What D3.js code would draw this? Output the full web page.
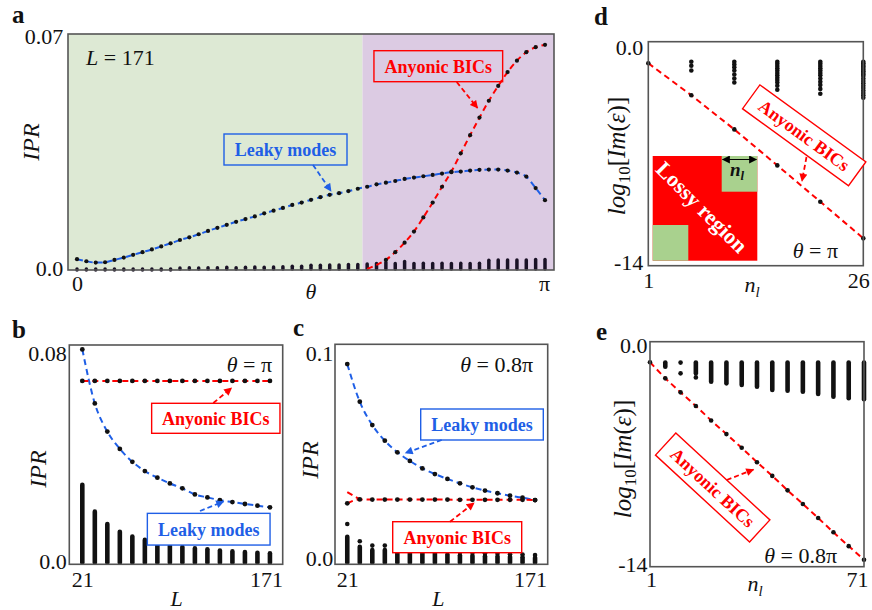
<!DOCTYPE html>
<html>
<head>
<meta charset="utf-8">
<script src="https://cdn.jsdelivr.net/npm/d3@7"></script>
<style>
  body { margin: 0; background: #fff; }
  svg { display: block; }
  svg text { font-family: "Liberation Serif", "DejaVu Serif", serif !important; }
</style>
</head>
<body>
<svg id="fig" width="872" height="610"></svg>
<script>
// ---------- data ----------
// panel a : IPR vs theta (theta in units of pi), L = 171
const thetaFrac = [0, 0.02, 0.04, 0.06, 0.08, 0.1, 0.12, 0.14, 0.16, 0.18, 0.2, 0.22, 0.24, 0.26, 0.28,
  0.3, 0.32, 0.34, 0.36, 0.38, 0.4, 0.42, 0.44, 0.46, 0.48, 0.5, 0.52, 0.54, 0.56, 0.58, 0.6, 0.62,
  0.64, 0.66, 0.68, 0.7, 0.72, 0.74, 0.76, 0.78, 0.8, 0.82, 0.84, 0.86, 0.88, 0.9, 0.92, 0.94, 0.96, 0.98, 1];
const leakyA = [0.0032, 0.0026, 0.0022, 0.0023, 0.0030, 0.0037, 0.0045, 0.0053, 0.0061, 0.0070, 0.0079,
  0.0089, 0.0097, 0.0106, 0.0116, 0.0125, 0.0134, 0.0143, 0.0151, 0.0159, 0.0168, 0.0176, 0.0184, 0.0193,
  0.0200, 0.0208, 0.0216, 0.0223, 0.0228, 0.0234, 0.0241, 0.0247, 0.0254, 0.0259, 0.0264, 0.0270, 0.0274,
  0.0278, 0.0282, 0.0286, 0.0290, 0.0292, 0.0295, 0.0297, 0.0298, 0.0298, 0.0295, 0.0289, 0.0277, 0.0243, 0.0207];
const redAStart = 31;   // first theta index of the BIC branch
const redA = [0.0003, 0.0015, 0.0030, 0.0053, 0.0081, 0.0114, 0.0156, 0.0200, 0.0247, 0.0292, 0.0346,
  0.0400, 0.0452, 0.0502, 0.0546, 0.0587, 0.0621, 0.0646, 0.0661, 0.0668];
const bulkA = [0, 0, 0, 0, 0, 0, 0, 0, 0, 0, 0,
  0.0006, 0.0007, 0.0006, 0.0007, 0.0007, 0.0008, 0.0007, 0.0008, 0.0009, 0.0008, 0.0009, 0.0010, 0.0011, 0.0011,
  0.0014, 0.0014, 0.0015, 0.0015, 0.0016, 0.0016,
  0.0018, 0.0019, 0.0022, 0.0019, 0.0025, 0.0019, 0.0020, 0.0019, 0.0020, 0.0019, 0.0020, 0.0019, 0.0020,
  0.0029, 0.0030, 0.0030, 0.0030, 0.0030, 0.0031, 0.0031];
const splitA = 0.61;    // green / purple boundary (units of pi)

// panels b, c : IPR vs L
const sizes = [21, 31, 41, 51, 61, 71, 81, 91, 101, 111, 121, 131, 141, 151, 161, 171];
const leakyB = [0.0784, 0.0587, 0.0484, 0.0421, 0.0374, 0.0340, 0.0316, 0.0295, 0.0277, 0.0255, 0.0244,
  0.0234, 0.0227, 0.0220, 0.0214, 0.0208];
const redB = [0.0669, 0.0669, 0.0669, 0.0669, 0.0669, 0.0669, 0.0669, 0.0669, 0.0669, 0.0669, 0.0669,
  0.0669, 0.0669, 0.0669, 0.0669, 0.0669];
const bulkB = [0.0290, 0.0192, 0.0147, 0.0119, 0.0101, 0.0089, 0.0079, 0.0068, 0.0063, 0.0058, 0.0055,
  0.0050, 0.0047, 0.0045, 0.0042, 0.0040];

const leakyC = [0.0910, 0.0739, 0.0633, 0.0562, 0.0509, 0.0470, 0.0436, 0.0410, 0.0388, 0.0368, 0.0350,
  0.0335, 0.0323, 0.0312, 0.0303, 0.0292];
const redC = [0.0277, 0.0295, 0.0294, 0.0294, 0.0294, 0.0294, 0.0294, 0.0294, 0.0294, 0.0293, 0.0293,
  0.0293, 0.0293, 0.0293, 0.0293, 0.0292];
const redCUpper = [0.0328, 0.0295];  // second BIC branch at L = 21, 31
const bulkCBar = [0.0125, 0.0080, 0.0065, 0.0065, 0.0057, 0.0054, 0.0054, 0.0049, 0.0045, 0.0041, 0.0039,
  0.0037, 0.0035, 0.0034, 0.0032, 0.0030];
const bulkCDot = [0.0183, 0.0105, 0.0085, 0.0085, 0.0075, 0.0072, 0.0072, 0.0066, 0.0060, 0.0055, 0.0052,
  0.0050, 0.0048, 0.0046, 0.0044, 0.0042];

// panel d : log10 Im(eps) vs n_l, theta = pi
const nD = [1, 6, 11, 16, 21, 26];
const bicD = [-1.35, -3.35, -5.48, -7.73, -10.0, -12.29];
const bulkD = [
  [],
  [-1.25, -1.5, -1.8],
  [-1.25, -1.42, -1.6, -1.8, -2.05, -2.3, -2.55],
  [-1.25, -1.38, -1.52, -1.66, -1.8, -1.95, -2.1, -2.25, -2.4, -2.55, -2.75, -3.0],
  [-1.25, -1.38, -1.52, -1.66, -1.8, -1.95, -2.1, -2.3, -2.5, -2.7, -2.95, -3.25],
  [-1.25, -1.35, -1.45, -1.55, -1.65, -1.75, -1.85, -1.95, -2.05, -2.15, -2.3, -2.45, -2.6, -2.75,
   -2.9, -3.05, -3.2, -3.35, -3.5]
];

// panel e : theta = 0.8 pi
const nE = [1, 6, 11, 16, 21, 26, 31, 36, 41, 46, 51, 56, 61, 66, 71];
const bicE = [-1.28, -2.28, -3.15, -4.0, -4.9, -5.75, -6.6, -7.5, -8.35, -9.25, -10.1, -10.97, -11.86,
  -12.72, -13.57];
const bulkENl = [6, 11, 16, 21, 26, 31, 36, 41, 46, 51, 56, 61, 66, 71];
const bulkETop = [-1.3, -1.3, -1.3, -1.3, -1.3, -1.3, -1.3, -1.3, -1.3, -1.3, -1.3, -1.3, -1.3, -1.3];
const bulkEBot = [-1.56, -1.3, -1.97, -2.49, -2.59, -2.69, -2.8, -3.0, -3.05, -3.11, -3.25, -3.42, -3.52, -3.58];
const bulkEExtra = [[11, -1.97], [16, -2.22]];

// ---------- helpers ----------
const SERIF = '"Liberation Serif", "DejaVu Serif", serif';
const RED = '#ff0000', BLUE = '#1f5fe6', INK = '#111', FRAME = '#555';

const svg = d3.select('#fig');
const defs = svg.append('defs');

function addMarker(id, color) {
  defs.append('marker')
      .attr('id', id)
      .attr('viewBox', '0 0 10 10')
      .attr('refX', 9).attr('refY', 5)
      .attr('markerWidth', 9).attr('markerHeight', 8)
      .attr('markerUnits', 'userSpaceOnUse')
      .attr('orient', 'auto-start-reverse')
    .append('path')
      .attr('d', 'M0,0L10,5L0,10z')
      .attr('fill', color);
}
addMarker('ah-red', RED);
addMarker('ah-blue', BLUE);
addMarker('ah-ink', '#000');

function frame(x, y) {
  const [x0, x1] = x.range(), [y0, y1] = y.range();
  svg.append('rect')
      .attr('x', Math.min(x0, x1)).attr('y', Math.min(y0, y1))
      .attr('width', Math.abs(x1 - x0)).attr('height', Math.abs(y1 - y0))
      .attr('fill', 'none').attr('stroke', FRAME).attr('stroke-width', 1.6);
}

function dashed(pts, color, curve) {
  svg.append('path').datum(pts)
      .attr('d', d3.line().x(d => d[0]).y(d => d[1]).curve(curve || d3.curveMonotoneX))
      .attr('fill', 'none').attr('stroke', color)
      .attr('stroke-width', 2).attr('stroke-dasharray', '6,4');
}

function dots(pts, r) {
  svg.append('g').selectAll('circle').data(pts).enter().append('circle')
      .attr('cx', d => d[0]).attr('cy', d => d[1]).attr('r', r).attr('fill', INK);
}

function bars(segs, w, color) {
  svg.append('g').selectAll('line').data(segs).enter().append('line')
      .attr('x1', d => d[0]).attr('x2', d => d[0])
      .attr('y1', d => d[1]).attr('y2', d => d[2])
      .attr('stroke', color || INK).attr('stroke-width', w).attr('stroke-linecap', 'round');
}

function arrow(x1, y1, x2, y2, color, id) {
  svg.append('line')
      .attr('x1', x1).attr('y1', y1).attr('x2', x2).attr('y2', y2)
      .attr('stroke', color).attr('stroke-width', 1.8).attr('stroke-dasharray', '5,3')
      .attr('marker-end', 'url(#' + id + ')');
}

function labelBox(cx, cy, w, h, angle, txt, color, fill) {
  const g = svg.append('g').attr('transform', `translate(${cx},${cy}) rotate(${angle})`);
  g.append('rect').attr('x', -w / 2).attr('y', -h / 2).attr('width', w).attr('height', h)
      .attr('fill', fill).attr('stroke', color).attr('stroke-width', 1.4);
  g.append('text').attr('text-anchor', 'middle').attr('dy', '0.35em')
      .attr('font-family', SERIF).attr('font-weight', 'bold').attr('font-size', 18)
      .attr('fill', color).text(txt);
}

function leftAxis(x0, scale, vals, fmt, pad, offs) {
  svg.append('g').attr('transform', `translate(${x0},0)`)
      .call(d3.axisLeft(scale).tickValues(vals).tickSize(0).tickPadding(pad).tickFormat(fmt))
      .call(g => g.select('.domain').remove())
      .call(g => g.selectAll('text')
          .attr('dy', 0).attr('y', (d, i) => offs[i])
          .attr('font-family', SERIF).attr('font-size', 22).attr('fill', INK));
}

function bottomAxis(y0, scale, vals, fmt, base, dxs) {
  svg.append('g').attr('transform', `translate(0,${y0})`)
      .call(d3.axisBottom(scale).tickValues(vals).tickSize(0).tickFormat(fmt))
      .call(g => g.select('.domain').remove())
      .call(g => g.selectAll('text')
          .attr('dy', 0).attr('y', base).attr('dx', (d, i) => dxs[i])
          .attr('font-family', SERIF).attr('font-size', 22).attr('fill', INK));
}

function mathText(x, y, parts, anchor, size) {
  const t = svg.append('text').attr('x', x).attr('y', y)
      .attr('text-anchor', anchor || 'start')
      .attr('font-family', SERIF).attr('font-size', size || 22).attr('fill', INK);
  parts.forEach(p => {
    const s = t.append('tspan').text(p.t);
    if (p.i) s.attr('font-style', 'italic');
    if (p.sub) s.attr('font-size', (size || 22) * 0.68).attr('dy', p.sub);
    if (p.dy) s.attr('dy', p.dy);
  });
  return t;
}

function rotLabel(cx, cy, parts, size) {
  const t = svg.append('text')
      .attr('transform', `translate(${cx},${cy}) rotate(-90)`)
      .attr('text-anchor', 'middle').attr('dy', '0.35em')
      .attr('font-family', SERIF).attr('font-size', size).attr('fill', INK);
  parts.forEach(p => {
    const s = t.append('tspan').text(p.t);
    if (p.i) s.attr('font-style', 'italic');
    if (p.sub) s.attr('font-size', size * 0.68).attr('dy', p.sub);
    if (p.dy) s.attr('dy', p.dy);
  });
}

function panelLetter(x, y, s) {
  svg.append('text').attr('x', x).attr('y', y)
      .attr('font-family', SERIF).attr('font-weight', 'bold').attr('font-size', 25)
      .attr('fill', INK).text(s);
}

// ---------- panel a ----------
const xA = d3.scaleLinear().domain([-0.0604, Math.PI + 0.0604]).range([68, 554]);
const yA = d3.scaleLinear().domain([0, 0.07]).range([270, 34]);

svg.append('rect').attr('x', xA.range()[0]).attr('y', yA(0.07))
    .attr('width', xA(splitA * Math.PI) - xA.range()[0]).attr('height', yA(0) - yA(0.07))
    .attr('fill', '#dde9d4');
svg.append('rect').attr('x', xA(splitA * Math.PI)).attr('y', yA(0.07))
    .attr('width', xA.range()[1] - xA(splitA * Math.PI)).attr('height', yA(0) - yA(0.07))
    .attr('fill', '#dccbe3');

bars(thetaFrac.map((t, i) => [xA(t * Math.PI), yA(0) - 1, yA(bulkA[i])]), 3.5, '#1a1226');

const leakyAPts = thetaFrac.map((t, i) => [xA(t * Math.PI), yA(leakyA[i])]);
const redAPts = redA.map((v, k) => [xA(thetaFrac[redAStart + k] * Math.PI), yA(v)]);
dashed(leakyAPts, BLUE);
dashed(redAPts, RED);
dots(leakyAPts, 2.1);
dots(redAPts.slice(2), 2.1);
frame(xA, yA);

leftAxis(68, yA, [0, 0.07], d => d === 0 ? '0.0' : '0.07', 4.7, [5, 9]);
bottomAxis(270, xA, [0, Math.PI], d => d === 0 ? '0' : 'π', 21, [0, -1]);
mathText(311, 299, [{ t: 'θ', i: true }], 'middle');
rotLabel(30.5, 142, [{ t: 'IPR', i: true }], 24);
mathText(86, 65, [{ t: 'L', i: true }, { t: ' = 171' }]);

labelBox(285.5, 149.5, 123, 31, 0, 'Leaky modes', BLUE, 'none');
arrow(313, 165, 331, 191, BLUE, 'ah-blue');
labelBox(438.3, 66.2, 128.7, 31, 0, 'Anyonic BICs', RED, 'none');
arrow(456.7, 82, 477.5, 108, RED, 'ah-red');
panelLetter(12, 23, 'a');

// ---------- panel b ----------
const xB = d3.scaleLinear().domain([10.6, 181.2]).range([69.3, 282.7]);
const yB = d3.scaleLinear().domain([0, 0.08]).range([564.3, 345]);

bars(sizes.map((L, i) => [xB(L), yB(0) - 1.5, yB(bulkB[i])]), 4.6);
const leakyBPts = sizes.map((L, i) => [xB(L), yB(leakyB[i])]);
const redBPts = sizes.map((L, i) => [xB(L), yB(redB[i])]);
dashed(leakyBPts, BLUE);
dashed(redBPts, RED);
dots(leakyBPts, 2.4);
dots(redBPts, 2.4);
frame(xB, yB);

leftAxis(69.3, yB, [0, 0.08], d => d === 0 ? '0.0' : '0.08', 2.6, [4, 15]);
bottomAxis(564.3, xB, [21, 171], d => String(d), 22.4, [0, -4]);
mathText(176.7, 606, [{ t: 'L', i: true }], 'middle');
rotLabel(38, 469, [{ t: 'IPR', i: true }], 24);
mathText(272, 371.5, [{ t: 'θ', i: true }, { t: ' = π' }], 'end');

labelBox(215.8, 418.3, 128.3, 30, 0, 'Anyonic BICs', RED, '#fff');
arrow(213.3, 403, 231.5, 388, RED, 'ah-red');
labelBox(208.7, 529.2, 122.7, 31.7, 0, 'Leaky modes', BLUE, '#fff');
arrow(200, 511, 223.5, 501.5, BLUE, 'ah-blue');
panelLetter(12, 338, 'b');

// ---------- panel c ----------
const xC = d3.scaleLinear().domain([11.2, 181.1]).range([335, 547.7]);
const yC = d3.scaleLinear().domain([0, 0.1]).range([564.3, 344.3]);

bars(sizes.map((L, i) => [xC(L), yC(0) - 1.5, yC(bulkCBar[i])]), 4.6);
dots(sizes.map((L, i) => [xC(L), yC(bulkCDot[i])]), 2.3);
const leakyCPts = sizes.map((L, i) => [xC(L), yC(leakyC[i])]);
const redCPts = sizes.map((L, i) => [xC(L), yC(redC[i])]);
dashed(leakyCPts, BLUE);
dashed(redCPts, RED);
dashed(redCUpper.map((v, i) => [xC(sizes[i]), yC(v)]), RED);
dots(leakyCPts, 2.4);
dots(redCPts, 2.4);
frame(xC, yC);

leftAxis(335, yC, [0, 0.1], d => d === 0 ? '0.0' : '0.1', 1.7, [1, 16]);
bottomAxis(564.3, xC, [21, 171], d => String(d), 22.4, [0, -5]);
mathText(438.3, 606, [{ t: 'L', i: true }], 'middle');
rotLabel(310, 460, [{ t: 'IPR', i: true }], 24);
mathText(533, 371.5, [{ t: 'θ', i: true }, { t: ' = 0.8π' }], 'end');

labelBox(482, 424.5, 122.6, 31, 0, 'Leaky modes', BLUE, '#fff');
arrow(441.7, 440, 405.5, 453, BLUE, 'ah-blue');
labelBox(457.2, 537.2, 129, 31, 0, 'Anyonic BICs', RED, '#fff');
arrow(450, 521.7, 474, 503, RED, 'ah-red');
panelLetter(293, 336, 'c');

// ---------- panel d ----------
const xD = d3.scaleLinear().domain([1, 26]).range([648.3, 863.3]);
const yD = d3.scaleLinear().domain([-14, 0]).range([265.7, 41.7]);

// inset sketch of the lossy region
const inset = { x0: 652.7, y0: 156, x1: 757.3, y1: 260.7, gx: 721.7, gy: 191.7, bx: 688.3, by: 225 };
svg.append('rect').attr('x', inset.x0).attr('y', inset.y0)
    .attr('width', inset.x1 - inset.x0).attr('height', inset.y1 - inset.y0).attr('fill', '#ff0000');
svg.append('rect').attr('x', inset.gx).attr('y', inset.y0)
    .attr('width', inset.x1 - inset.gx).attr('height', inset.gy - inset.y0).attr('fill', '#a9d18e');
svg.append('rect').attr('x', inset.x0).attr('y', inset.by)
    .attr('width', inset.bx - inset.x0).attr('height', inset.y1 - inset.by).attr('fill', '#a9d18e');
svg.append('text').attr('transform', 'translate(702,207) rotate(45)')
    .attr('text-anchor', 'middle').attr('dy', '0.35em')
    .attr('font-family', SERIF).attr('font-weight', 'bold').attr('font-size', 22)
    .attr('fill', '#fff').text('Lossy region');
svg.append('line').attr('x1', inset.gx + 1).attr('x2', inset.x1 - 1)
    .attr('y1', 159.5).attr('y2', 159.5)
    .attr('stroke', '#000').attr('stroke-width', 1)
    .attr('marker-start', 'url(#ah-ink)').attr('marker-end', 'url(#ah-ink)');
mathText(737, 176, [{ t: 'n', i: true }, { t: 'l', i: true, sub: 4 }], 'middle', 19)
    .attr('font-weight', 'bold');

const bicDPts = nD.map((n, i) => [xD(n), yD(bicD[i])]);
dashed(bicDPts, RED, d3.curveLinear);
nD.forEach((n, i) => dots(bulkD[i].map(v => [xD(n), yD(v)]), 2.3));
dots(bicDPts, 2.3);
frame(xD, yD);

leftAxis(648.3, yD, [-14, 0], d => d === 0 ? '0.0' : '-14', 5, [4, 13]);
bottomAxis(265.7, xD, [1, 26], d => String(d), 22.3, [0, -5]);
mathText(752, 292, [{ t: 'n', i: true }, { t: 'l', i: true, sub: 5 }], 'middle');
rotLabel(616.7, 156, [{ t: 'log', i: true }, { t: '10', sub: 5 }, { t: '[', dy: -5 },
  { t: 'Im', i: true }, { t: '(' }, { t: 'ε', i: true }, { t: ')]' }], 25);
mathText(838, 258, [{ t: 'θ', i: true }, { t: ' = π' }], 'end');

labelBox(804.2, 135.3, 131, 29.5, 36, 'Anyonic BICs', RED, '#fff');
arrow(806.5, 157, 802, 181, RED, 'ah-red');
panelLetter(594, 25, 'd');

// ---------- panel e ----------
const xE = d3.scaleLinear().domain([1, 71]).range([650, 864]);
const yE = d3.scaleLinear().domain([-14, 0]).range([566.7, 341.7]);

const bicEPts = nE.map((n, i) => [xE(n), yE(bicE[i])]);
dashed(bicEPts, RED, d3.curveLinear);
bars(bulkENl.map((n, i) => [xE(n), yE(bulkETop[i]), yE(bulkEBot[i])]), 4.6);
dots(bulkEExtra.map(d => [xE(d[0]), yE(d[1])]), 2.3);
dots(bicEPts, 2.3);
frame(xE, yE);

leftAxis(650, yE, [-14, 0], d => d === 0 ? '0.0' : '-14', 2.5, [5, 11]);
bottomAxis(566.7, xE, [1, 71], d => String(d), 20.3, [1, -7]);
mathText(755, 591, [{ t: 'n', i: true }, { t: 'l', i: true, sub: 5 }], 'middle');
rotLabel(622, 459, [{ t: 'log', i: true }, { t: '10', sub: 5 }, { t: '[', dy: -5 },
  { t: 'Im', i: true }, { t: '(' }, { t: 'ε', i: true }, { t: ')]' }], 25);
mathText(837, 563, [{ t: 'θ', i: true }, { t: ' = 0.8π' }], 'end');

labelBox(712.7, 487.5, 128, 30, 42.7, 'Anyonic BICs', RED, '#fff');
arrow(726.7, 480, 753.5, 469.5, RED, 'ah-red');
panelLetter(596, 340, 'e');
</script>
</body>
</html>
